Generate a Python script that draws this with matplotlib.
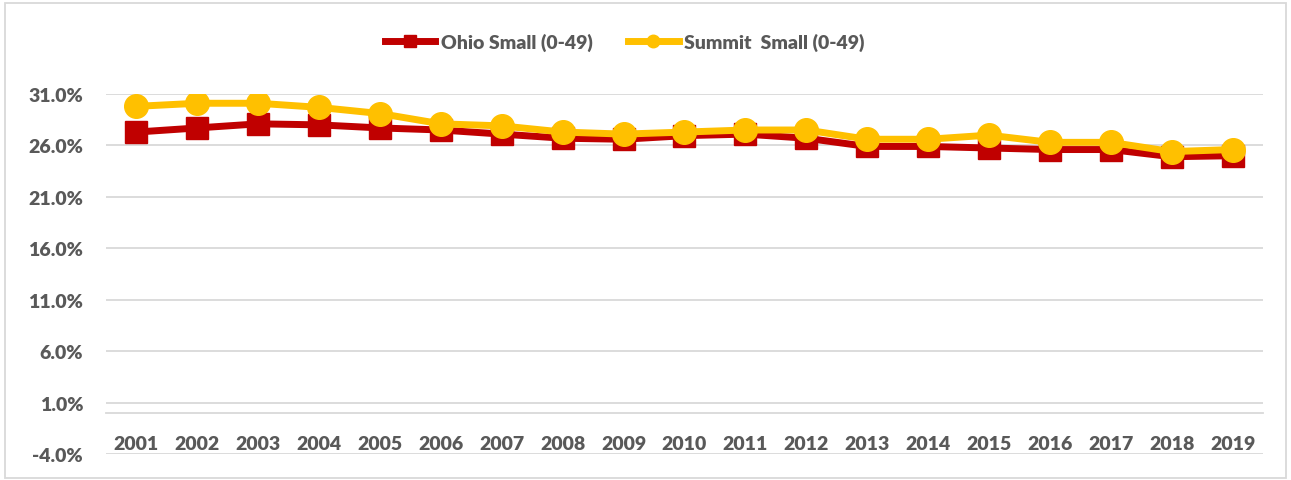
import matplotlib
matplotlib.use("Agg")
import matplotlib.pyplot as plt
from matplotlib.lines import Line2D
from matplotlib.patches import Rectangle
from matplotlib.ticker import FuncFormatter

years = [str(y) for y in range(2001, 2020)]
ohio_small = [27.3, 27.7, 28.1, 28.0, 27.7, 27.5, 27.1, 26.7, 26.6, 26.95, 27.1, 26.7,
              25.9, 25.9, 25.75, 25.6, 25.6, 24.9, 25.0]
summit_small = [29.8, 30.1, 30.1, 29.7, 29.1, 28.1, 27.9, 27.3, 27.1, 27.3, 27.5, 27.5,
                26.6, 26.6, 27.0, 26.3, 26.3, 25.4, 25.6]
yticks = [-4, 1, 6, 11, 16, 21, 26, 31]

RED = "#C00000"
YEL = "#FFC000"
GRID = "#D9D9D9"
TXT = "#595959"
W = 'heavy'

plt.rcParams['font.family'] = ['Lato', 'DejaVu Sans']

fig = plt.figure(figsize=(12.91, 4.81), dpi=100)
ax = fig.add_axes([106/1291, 1-455/481, (1263-106)/1291, (455-95)/481])

x = list(range(len(years)))
ax.plot(x, ohio_small, color=RED, lw=5, marker='s', ms=16.5, mec=RED, mfc=RED, zorder=3,
        solid_joinstyle='round')
ax.plot(x, summit_small, color=YEL, lw=5, marker='o', ms=17, mec=YEL, mfc=YEL, zorder=4,
        solid_joinstyle='round')

ax.set_xlim(-0.5, len(years) - 0.5)
ax.set_ylim(-4, 31)
ax.set_yticks(yticks)
ax.yaxis.set_major_formatter(FuncFormatter(lambda v, p: f"{v:.1f}%"))
ax.set_xticks(x)
ax.set_xticklabels(years)

for v in yticks:
    ax.axhline(v, color=GRID, lw=1.3, zorder=1)

for s in ['top', 'right', 'left']:
    ax.spines[s].set_visible(False)
ax.spines['bottom'].set_position(('data', 0))
ax.spines['bottom'].set_color(GRID)
ax.spines['bottom'].set_linewidth(1.3)
ax.spines['bottom'].set_zorder(1)

ax.tick_params(axis='both', length=0, colors=TXT, labelsize=14)
ax.tick_params(axis='x', pad=16)
ax.tick_params(axis='y', pad=16.5)
for lab in ax.get_xticklabels() + ax.get_yticklabels():
    lab.set_fontweight(W)
    lab.set_color(TXT)

handles = [
    Line2D([0], [0], color=RED, lw=5, marker='s', ms=9, mfc=RED, mec=RED),
    Line2D([0], [0], color=YEL, lw=5, marker='o', ms=9, mfc=YEL, mec=YEL),
]
leg = fig.legend(handles, ["Ohio Small (0-49)", "Summit  Small (0-49)"],
                 loc='center', bbox_to_anchor=(0.484, 1-43/481), ncol=2, frameon=False,
                 handlelength=2.6, handletextpad=0.3, columnspacing=1.8,
                 prop={'size': 14, 'weight': W})
for t in leg.get_texts():
    t.set_color(TXT)

fig.patches.append(Rectangle((5/1291, 2/481), 1-10/1291, 1-6/481, transform=fig.transFigure,
                             fill=False, edgecolor=GRID, lw=1.3))

fig.savefig("out.png", dpi=100)
